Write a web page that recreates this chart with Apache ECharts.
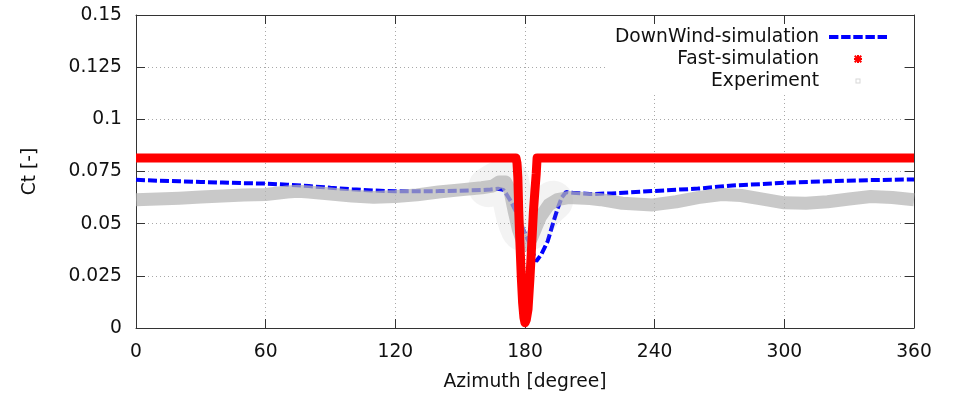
<!DOCTYPE html>
<html>
<head>
<meta charset="utf-8">
<script src="https://cdn.jsdelivr.net/npm/echarts@6/dist/echarts.min.js"></script>
<style>
html,body{margin:0;padding:0;background:#fff;}
#chart{width:954px;height:397px;}
</style>
</head>
<body>
<div id="chart"></div>
<script>
// ---- data ----
const xTicks = [0, 60, 120, 180, 240, 300, 360];
const yTicks = [0, 0.025, 0.05, 0.075, 0.1, 0.125, 0.15];

const dwAz = [0,10,20,30,40,50,60,70,80,90,100,110,120,130,140,150,160,164,167.5,170,171.5,173.5,175.5,177.5,179.5,181.5,183.5,185.2,187.5,190.5,192.8,195,197,199,202,210,220,240,260,276,290,300,320,340,360];
const dwCt = [0.0710,0.0706,0.0703,0.0700,0.0697,0.0694,0.0692,0.0687,0.0680,0.0672,0.0665,0.0659,0.0655,0.0655,0.0656,0.0658,0.0661,0.0664,0.0667,0.0662,0.0640,0.0607,0.0565,0.0512,0.0465,0.0420,0.0365,0.0320,0.0352,0.0416,0.0496,0.0570,0.0625,0.0652,0.0648,0.0642,0.0645,0.0657,0.0668,0.0683,0.0690,0.0696,0.0703,0.0709,0.0712];

const fastAz = [0,175.8,176.3,176.7,177.1,177.6,178.3,178.9,179.5,180,180.6,181.4,182.3,183.1,183.9,184.6,185.2,185.6,360];
const fastCt = [0.0815,0.0815,0.079,0.072,0.056,0.042,0.024,0.012,0.005,0.0025,0.004,0.009,0.024,0.040,0.056,0.066,0.074,0.0815,0.0815];

const expAz = [0,10,20,30,40,50,60,70,75,80,90,100,110,120,130,140,150,160,165,168,171,173,175,177,179,181,183,185,187,189,191,195,200,210,215,225,239,250,260,271,280,290,300,310,320,330,340,350,360];
const expCt = [0.0615,0.0618,0.0622,0.0628,0.0633,0.0637,0.0640,0.0652,0.0655,0.0652,0.0642,0.0632,0.0626,0.0630,0.0638,0.0652,0.0662,0.0672,0.0680,0.0700,0.0700,0.0660,0.0560,0.0470,0.0410,0.0400,0.0430,0.0480,0.0530,0.0560,0.0590,0.0615,0.0625,0.0620,0.0615,0.0598,0.0590,0.0605,0.0625,0.0640,0.0635,0.0618,0.0600,0.0598,0.0605,0.0618,0.0630,0.0625,0.0615];

// scatter spread of the experimental points in the wake region
const expSpreadAz = [163,167,171,174,177,180,183,186,189,193];
const expSpreadCt = [0.0675,0.0700,0.0720,0.0620,0.0500,0.0460,0.0480,0.0530,0.0570,0.0610];

const seriesNames = ['DownWind-simulation', 'Fast-simulation', 'Experiment'];

const pairs = (xs, ys) => xs.map((x, i) => [x, ys[i]]);

const FONT = 'DejaVu Sans';
const FS = 18.7;
const axisColor = '#333';
const gridColor = '#a8a8a8';

const dashIcon = 'path://M0,0h9.3v4h-9.3z M12,0h9.3v4h-9.3z M24,0h9.3v4h-9.3z M36,0h9.3v4h-9.3z M48,0h9.3v4h-9.3z';
const starIcon = 'path://M3,0h2v3h3v2h-3v3h-2v-3h-3v-2h3z M0,1.4L1.4,0L8,6.6L6.6,8z M6.6,0L8,1.4L1.4,8L0,6.6z';
const sqIcon = 'path://M0,0 M8,8 M1.5,1.5h5v5h-5z M2.5,2.5v3h3v-3z';

const chart = echarts.init(document.getElementById('chart'), null, {renderer: 'canvas'});

const baseX = {
  type: 'value', min: xTicks[0], max: xTicks[xTicks.length - 1], interval: 60,
  axisLine: {show: true, onZero: false, lineStyle: {color: axisColor, width: 1}},
  axisTick: {show: true, inside: true, length: 9, lineStyle: {color: axisColor, width: 1}},
};
const baseY = {
  type: 'value', min: yTicks[0], max: yTicks[yTicks.length - 1], interval: 0.025,
  axisLine: {show: true, onZero: false, lineStyle: {color: axisColor, width: 1}},
  axisTick: {show: true, inside: true, length: 9, lineStyle: {color: axisColor, width: 1}},
};

chart.setOption({
  animation: false,
  backgroundColor: '#fff',
  textStyle: {fontFamily: FONT},
  grid: {left: 136, right: 40, top: 15, bottom: 68, containLabel: false},
  legend: {
    orient: 'vertical', align: 'right', right: 51, top: 26,
    padding: [0, 16, 0, 9], itemGap: 0, itemWidth: 58, itemHeight: 8,
    backgroundColor: '#fff', selectedMode: false,
    textStyle: {fontFamily: FONT, fontSize: FS, color: '#111', lineHeight: 22, padding: [0, 5, 0, 0]},
    data: [
      {name: seriesNames[0], icon: dashIcon, itemStyle: {color: '#0000ff', borderWidth: 0}},
      {name: seriesNames[1], icon: starIcon, itemStyle: {color: '#ff0000', borderWidth: 0}},
      {name: seriesNames[2], icon: sqIcon, itemStyle: {color: '#d8d8d8', borderWidth: 0}}
    ]
  },
  xAxis: [
    Object.assign({}, baseX, {
      position: 'bottom',
      name: 'Azimuth [degree]', nameLocation: 'middle', nameGap: 45,
      nameTextStyle: {fontFamily: FONT, fontSize: FS, color: '#111'},
      axisLabel: {fontFamily: FONT, fontSize: FS, color: '#111', margin: 15},
      splitLine: {show: true, lineStyle: {color: gridColor, width: 1, type: [1, 3]}}
    }),
    Object.assign({}, baseX, {
      position: 'top', axisLabel: {show: false}, splitLine: {show: false}
    })
  ],
  yAxis: [
    Object.assign({}, baseY, {
      position: 'left',
      name: 'Ct [-]', nameLocation: 'middle', nameGap: 96, nameRotate: 90,
      nameTextStyle: {fontFamily: FONT, fontSize: FS, color: '#111'},
      axisLabel: {fontFamily: FONT, fontSize: FS, color: '#111', margin: 14,
        formatter: v => String(+v.toFixed(3))},
      splitLine: {show: true, lineStyle: {color: gridColor, width: 1, type: [1, 3]}}
    }),
    Object.assign({}, baseY, {
      position: 'right', axisLabel: {show: false}, splitLine: {show: false}
    })
  ],
  series: [
    {
      name: seriesNames[0], type: 'line', xAxisIndex: 0, yAxisIndex: 0,
      data: pairs(dwAz, dwCt), symbol: 'none', smooth: false,
      lineStyle: {color: '#0000ff', width: 4, type: [9, 3]},
      itemStyle: {color: '#0000ff'}, z: 2
    },
    {
      name: seriesNames[2], type: 'line', xAxisIndex: 0, yAxisIndex: 0,
      data: pairs(expSpreadAz, expSpreadCt), symbol: 'none', smooth: true,
      lineStyle: {color: '#a0a0a0', width: 40, opacity: 0.12, cap: 'round', join: 'round'},
      itemStyle: {color: '#cccccc'}, z: 3
    },
    {
      name: seriesNames[2], type: 'line', xAxisIndex: 0, yAxisIndex: 0,
      data: pairs(expAz, expCt), symbol: 'none', smooth: false,
      lineStyle: {color: '#b4b4b4', width: 13, opacity: 0.72, join: 'round'},
      itemStyle: {color: '#cccccc'}, z: 3
    },
    {
      name: seriesNames[1], type: 'line', xAxisIndex: 0, yAxisIndex: 0,
      data: pairs(fastAz, fastCt), symbol: 'none', smooth: false,
      lineStyle: {color: '#ff0000', width: 9, join: 'round'},
      itemStyle: {color: '#ff0000'}, z: 4
    }
  ]
});
</script>
</body>
</html>
